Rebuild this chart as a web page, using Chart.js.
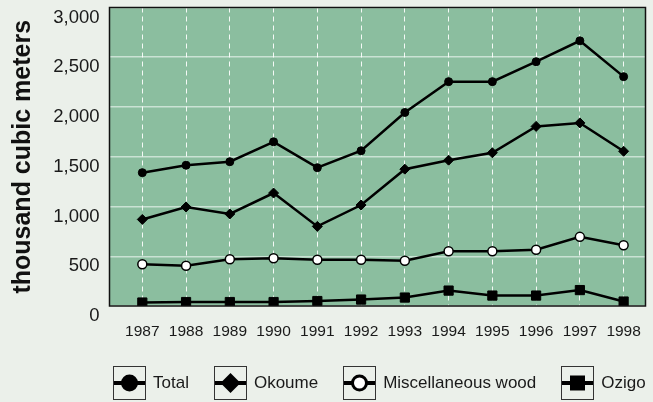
<!DOCTYPE html>
<html>
<head>
<meta charset="utf-8">
<script src="https://cdn.jsdelivr.net/npm/chart.js@4"></script>
<style>
  html, body { margin: 0; padding: 0; background: #ebf0ea; overflow: hidden; }
  #wrap { position: relative; width: 653px; height: 402px; overflow: hidden; }
  #legend {
    position: absolute; left: 113px; top: 366px;
    display: flex; white-space: nowrap;
    font-family: "Liberation Sans", Arial, sans-serif; font-size: 17px; color: #1a1a1a;
  }
  .item { display: flex; align-items: center; margin-right: 25px; }
  .item canvas { margin-right: 7px; }
</style>
</head>
<body>
<div id="wrap">
  <canvas id="myChart" width="653" height="402"></canvas>
  <div id="legend"></div>
</div>
<script>
// values (thousand cubic meters)
var years = [1987, 1988, 1989, 1990, 1991, 1992, 1993, 1994, 1995, 1996, 1997, 1998];
var total = [1340, 1415, 1450, 1650, 1390, 1560, 1945, 2255, 2255, 2455, 2665, 2305];
var okoume = [870, 995, 925, 1135, 800, 1015, 1375, 1465, 1540, 1805, 1840, 1555];
var misc = [420, 405, 470, 480, 465, 465, 455, 550, 550, 565, 695, 610];
var ozigo = [35, 40, 40, 40, 50, 65, 85, 155, 105, 105, 160, 45];
var seriesNames = ['Total', 'Okoume', 'Miscellaneous wood', 'Ozigo'];
var yTicks = [0, 500, 1000, 1500, 2000, 2500, 3000];

var font = '"Liberation Sans", Arial, sans-serif';

function pts(vals) {
  return years.map(function (yr, i) { return {x: yr, y: vals[i]}; });
}

var frame = {
  id: 'frame',
  beforeDraw: function (chart) {
    var a = chart.chartArea, c = chart.ctx;
    c.save();
    c.fillStyle = '#8bbe9f';
    c.fillRect(a.left, a.top, a.right - a.left, a.bottom - a.top);
    c.restore();
  },
  afterDraw: function (chart) {
    var a = chart.chartArea, c = chart.ctx;
    c.save();
    c.strokeStyle = '#111';
    c.lineWidth = 1.5;
    c.strokeRect(a.left, a.top, a.right - a.left, a.bottom - a.top);
    c.restore();
  }
};

var ctx = document.getElementById('myChart').getContext('2d');
var myChart = new Chart(ctx, {
  type: 'line',
  data: {
    datasets: [{
      label: seriesNames[0],
      data: pts(total),
      borderColor: '#000', backgroundColor: '#000', borderWidth: 2.5,
      pointStyle: 'circle', pointRadius: 4, pointBorderWidth: 1
    }, {
      label: seriesNames[1],
      data: pts(okoume),
      borderColor: '#000', backgroundColor: '#000', borderWidth: 2.5,
      pointStyle: 'rectRot', pointRadius: 5, pointBorderWidth: 1
    }, {
      label: seriesNames[2],
      data: pts(misc),
      borderColor: '#000', backgroundColor: '#fff', borderWidth: 2.5,
      pointStyle: 'circle', pointRadius: 4.5, pointBorderWidth: 1.5
    }, {
      label: seriesNames[3],
      data: pts(ozigo),
      borderColor: '#000', backgroundColor: '#000', borderWidth: 2.5,
      pointStyle: 'rect', pointRadius: 6.5, pointBorderWidth: 1
    }]
  },
  options: {
    responsive: false,
    animation: false,
    layout: { padding: { left: 0, top: 7, right: 5.5, bottom: 56 } },
    plugins: { legend: { display: false }, tooltip: { enabled: false } },
    scales: {
      x: {
        type: 'linear',
        min: 1986.25,
        max: 1998.5,
        afterBuildTicks: function (s) { s.ticks = years.map(function (v) { return {value: v}; }); },
        afterFit: function (s) { s.height = 40; s.paddingLeft = 0; s.paddingRight = 0; },
        grid: { color: 'rgba(255,255,255,0.9)', lineWidth: 1, drawTicks: false },
        border: { display: false, dash: [5, 4] },
        ticks: {
          padding: 16,
          color: '#1a1a1a',
          font: { family: font, size: 15.5 },
          callback: function (v) { return String(v); }
        }
      },
      y: {
        min: 0,
        max: 3000,
        afterBuildTicks: function (s) { s.ticks = yTicks.map(function (v) { return {value: v}; }); },
        afterFit: function (s) { s.width = 109.5; s.paddingTop = 0; s.paddingBottom = 0; },
        grid: { color: 'rgba(255,255,255,0.55)', lineWidth: 1.5, drawTicks: false },
        border: { display: false },
        ticks: {
          padding: 10,
          labelOffset: 10,
          color: '#1a1a1a',
          font: { family: font, size: 18.5 },
          callback: function (v) { return v.toLocaleString('en-US'); }
        },
        title: {
          display: true,
          text: 'thousand cubic meters',
          color: '#111',
          font: { family: font, size: 25, weight: 'bold' },
          padding: { top: 8, bottom: 0 }
        }
      }
    }
  },
  plugins: [frame]
});

// legend with boxed symbols, built from the datasets
var legendEl = document.getElementById('legend');
myChart.data.datasets.forEach(function (ds) {
  var item = document.createElement('div');
  item.className = 'item';
  var cv = document.createElement('canvas');
  cv.width = 33; cv.height = 34;
  var c = cv.getContext('2d');
  c.strokeStyle = '#333'; c.lineWidth = 1;
  c.strokeRect(0.5, 0.5, 32, 33);
  c.strokeStyle = '#000'; c.lineWidth = 4;
  c.beginPath(); c.moveTo(1, 17); c.lineTo(32, 17); c.stroke();
  c.fillStyle = ds.backgroundColor; c.lineWidth = 3;
  c.beginPath();
  if (ds.pointStyle === 'rectRot') {
    c.moveTo(16.5, 7); c.lineTo(26.5, 17); c.lineTo(16.5, 27); c.lineTo(6.5, 17); c.closePath();
    c.fill();
  } else if (ds.pointStyle === 'rect') {
    c.rect(9, 9.5, 15, 15); c.fill();
  } else if (ds.backgroundColor === '#fff') {
    c.arc(16.5, 17, 7, 0, Math.PI * 2); c.fill(); c.stroke();
  } else {
    c.arc(16.5, 17, 8.5, 0, Math.PI * 2); c.fill();
  }
  var t = document.createElement('span');
  t.textContent = ds.label;
  item.appendChild(cv); item.appendChild(t);
  legendEl.appendChild(item);
});
</script>
</body>
</html>
